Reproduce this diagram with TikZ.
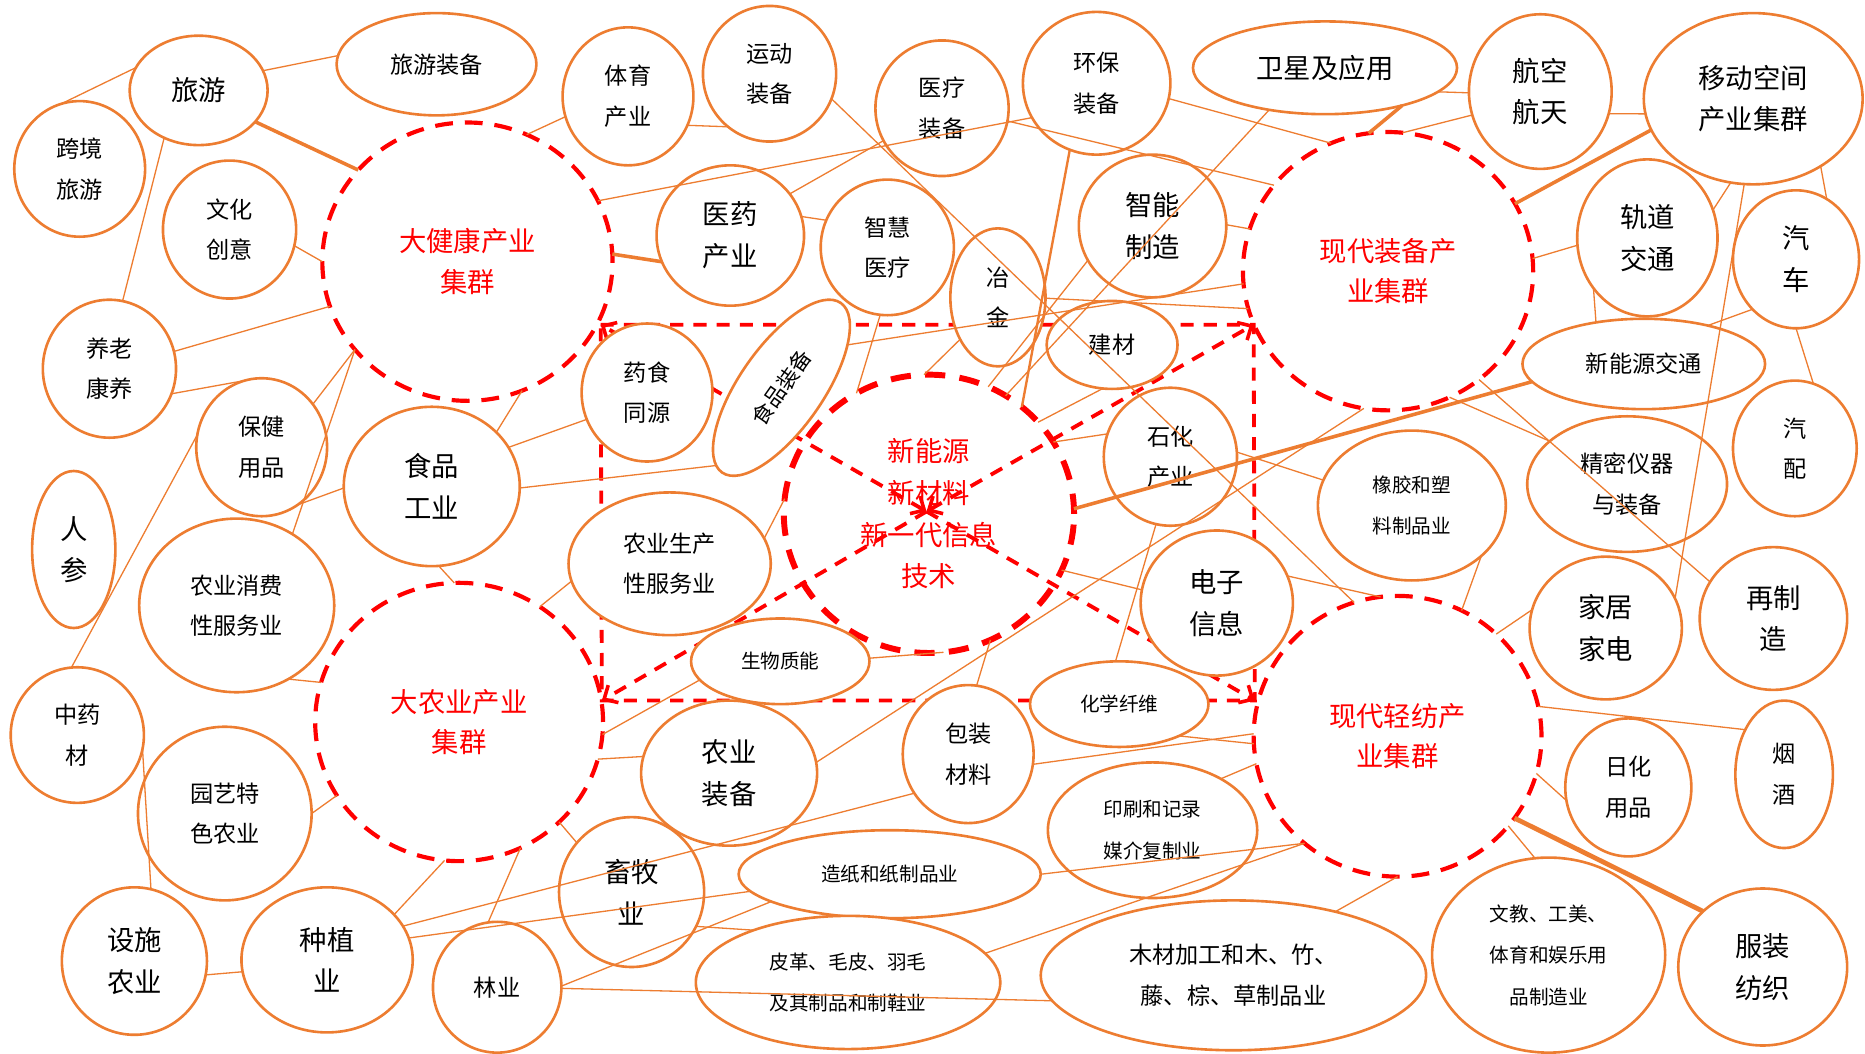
\documentclass[tikz,border=0pt]{standalone}
\usepackage{fontspec}
\setmainfont{Noto Sans CJK SC}
\usetikzlibrary{shapes.geometric,arrows.meta}
\definecolor{org}{RGB}{237,125,49}
\definecolor{rd}{RGB}{255,0,0}
\begin{document}
\begin{tikzpicture}[x=1pt,y=-1pt,
  ell/.style={ellipse,draw=org,fill=white,line width=2.2pt,inner sep=0pt,outer sep=0pt,align=center,text=black},
  fL/.style={font=\fontsize{23}{35}\selectfont},
  fM/.style={font=\fontsize{19.5}{34}\selectfont},
  fS/.style={font=\fontsize{16.5}{35}\selectfont},
  clu/.style={ellipse,draw=rd,line width=3.5pt,dash pattern=on 15pt off 10pt,inner sep=0pt,outer sep=0pt,align=center,text=rd,font=\fontsize{23}{34}\selectfont},
  ln/.style={draw=org,line width=1.1pt},
  lnm/.style={draw=org,line width=2pt},
  lnt/.style={draw=org,line width=3pt},
  rdl/.style={draw=rd,line width=3.2pt,dash pattern=on 11pt off 8.5pt},
  arr/.style={-{Straight Barb[length=9pt,width=17pt,line width=3pt]}},
  arrb/.style={{Straight Barb[length=9pt,width=17pt,line width=3pt]}-{Straight Barb[length=9pt,width=17pt,line width=3pt]}}
]
\path[use as bounding box] (0,0) rectangle (1568,886);

% red central structure
\coordinate (TL) at (505,273);
\coordinate (TR) at (1054,273);
\coordinate (BL) at (506,589);
\coordinate (BR) at (1055,589);
\coordinate (C) at (779,430);
\draw[rdl] (TL) -- (TR) -- (BR) -- (BL) -- cycle;
\draw[rdl,arrb] (C) -- (TL);
\draw[rdl,arrb] (C) -- (TR);
\draw[rdl,arr] (C) -- (BL);
\draw[rdl,arr] (C) -- (BR);

% clusters
\node[clu,minimum width=244pt,minimum height=234pt] (djk) at (393,220) {大健康产业\\集群};
\node[clu,minimum width=244pt,minimum height=234pt] (xdzb) at (1167,228) {现代装备产\\业集群};
\node[clu,line width=5pt,dash pattern=on 17pt off 12pt,font=\fontsize{23}{35}\selectfont,minimum width=244pt,minimum height=234pt] (xny) at (781,432) {新能源\\新材料\\新一代信息\\技术};
\node[clu,minimum width=242pt,minimum height=234pt] (dny) at (386,607) {大农业产业\\集群};
\node[clu,minimum width=242pt,minimum height=236pt] (xdqf) at (1175,619) {现代轻纺产\\业集群};

% nodes
\node[ell,fM,minimum width=110pt,minimum height=114pt] (kj) at (67,142) {跨境\\旅游};
\node[ell,fL,minimum width=116pt,minimum height=92pt] (ly) at (167,76) {旅游};
\node[ell,fM,minimum width=168pt,minimum height=86pt] (lyzb) at (367,54) {旅游装备};
\node[ell,fM,minimum width=110pt,minimum height=116pt] (ty) at (528,81) {体育\\产业};
\node[ell,fM,minimum width=112pt,minimum height=114pt] (yd) at (647,62) {运动\\装备};
\node[ell,fM,minimum width=112pt,minimum height=114pt] (ylzb) at (792,91) {医疗\\装备};
\node[ell,fM,minimum width=124pt,minimum height=120pt] (hb) at (922,70) {环保\\装备};
\node[ell,fL,minimum width=222pt,minimum height=78pt] (wx) at (1114,57) {卫星及应用};
\node[ell,fL,minimum width=120pt,minimum height=130pt] (hk) at (1295,77) {航空\\航天};
\node[ell,fL,minimum width=184pt,minimum height=144pt] (kj2) at (1474,83) {移动空间\\产业集群};
\node[ell,fM,minimum width=112pt,minimum height=116pt] (wh) at (193,193) {文化\\创意};
\node[ell,fL,minimum width=124pt,minimum height=118pt] (yy) at (614,198) {医药\\产业};
\node[ell,fM,minimum width=112pt,minimum height=114pt] (zh) at (746,208) {智慧\\医疗};
\node[ell,fM,minimum width=80pt,minimum height=116pt] (yj) at (839,250) {冶\\金};
\node[ell,fL,minimum width=124pt,minimum height=120pt] (zn) at (969,190) {智能\\制造};
\node[ell,fL,minimum width=118pt,minimum height=132pt] (gd) at (1385,200) {轨道\\交通};
\node[ell,fL,minimum width=106pt,minimum height=116pt] (qc) at (1510,218) {汽\\车};
\node[ell,fM,minimum width=112pt,minimum height=116pt] (yl) at (92,310) {养老\\康养};
\node[ell,fM,minimum width=110pt,minimum height=74pt] (jc) at (935,290) {建材};
\node[ell,fM,minimum width=204pt,minimum height=76pt] (xnyjt) at (1382,306) {新能源交通};
\node[ell,fM,minimum width=110pt,minimum height=116pt] (ys) at (544,330) {药食\\同源};
\node[ell,font=\fontsize{18}{24}\selectfont,minimum width=174pt,minimum height=70pt,rotate=55] (spzb) at (657,326) {食品装备};
\node[ell,fM,minimum width=110pt,minimum height=116pt] (bj) at (220,376) {保健\\用品};
\node[ell,fL,minimum width=148pt,minimum height=134pt] (spgy) at (363,409) {食品\\工业};
\node[ell,fM,minimum width=112pt,minimum height=116pt] (sh) at (984,384) {石化\\产业};
\node[ell,fM,minimum width=104pt,minimum height=114pt] (qp) at (1509,377) {汽\\配};
\node[ell,fS,minimum width=158pt,minimum height=126pt] (xj) at (1187,425) {橡胶和塑\\料制品业};
\node[ell,fM,minimum width=168pt,minimum height=114pt] (jm) at (1368,407) {精密仪器\\与装备};
\node[ell,fL,minimum width=70pt,minimum height=132pt] (rs) at (62,462) {人\\参};
\node[ell,fM,minimum width=164pt,minimum height=146pt] (nyxf) at (199,509) {农业消费\\性服务业};
\node[ell,fM,minimum width=170pt,minimum height=120pt] (nysc) at (563,474) {农业生产\\性服务业};
\node[ell,fL,minimum width=128pt,minimum height=122pt] (dz) at (1023,507) {电子\\信息};
\node[ell,fL,minimum width=128pt,minimum height=120pt] (jj) at (1350,528) {家居\\家电};
\node[ell,fL,minimum width=124pt,minimum height=120pt] (zzz) at (1491,520) {再制\\造};
\node[ell,fS,minimum width=150pt,minimum height=72pt] (sw) at (656,556) {生物质能};
\node[ell,fS,minimum width=150pt,minimum height=72pt] (hx) at (941,592) {化学纤维};
\node[ell,fM,minimum width=112pt,minimum height=114pt] (zy) at (65,618) {中药\\材};
\node[ell,fL,minimum width=148pt,minimum height=122pt] (nyzb) at (613,650) {农业\\装备};
\node[ell,fM,minimum width=110pt,minimum height=116pt] (bz) at (814,634) {包装\\材料};
\node[ell,fM,minimum width=106pt,minimum height=116pt] (rh) at (1369,662) {日化\\用品};
\node[ell,fM,minimum width=82pt,minimum height=124pt] (yjiu) at (1500,651) {烟\\酒};
\node[ell,fM,minimum width=146pt,minimum height=146pt] (yy2) at (189,684) {园艺特\\色农业};
\node[ell,fS,minimum width=176pt,minimum height=114pt] (ys2) at (969,698) {印刷和记录\\媒介复制业};
\node[ell,fL,minimum width=122pt,minimum height=126pt] (xm) at (531,750) {畜牧\\业};
\node[ell,fS,minimum width=254pt,minimum height=74pt] (zz) at (748,735) {造纸和纸制品业};
\node[ell,fL,minimum width=122pt,minimum height=124pt] (ss) at (113,808) {设施\\农业};
\node[ell,fL,minimum width=144pt,minimum height=122pt] (zhz) at (275,807) {种植\\业};
\node[ell,fM,minimum width=108pt,minimum height=110pt] (lin) at (418,830) {林业};
\node[ell,fS,minimum width=256pt,minimum height=112pt] (pg) at (713,826) {皮革、毛皮、羽毛\\及其制品和制鞋业};
\node[ell,fM,minimum width=324pt,minimum height=126pt] (mc) at (1037,820) {木材加工和木、竹、\\藤、棕、草制品业};
\node[ell,fS,minimum width=196pt,minimum height=164pt] (wj) at (1302,803) {文教、工美、\\体育和娱乐用\\品制造业};
\node[ell,fL,minimum width=142pt,minimum height=132pt] (fz) at (1482,813) {服装\\纺织};

% connectors
\draw[ln] (kj.106) -- (ly.160);
\draw[ln] (ly.17) -- (lyzb.175);
\draw[lnt] (ly.-29) -- (djk.140);
\draw[ln] (ly.234) -- (yl.79);
\draw[ln] (ty.198) -- (djk.65);
\draw[ln] (djk.25) -- (hb.208);
\draw[ln] (wh.-14) -- (djk.180);
\draw[lnt] (djk.3) -- (yy.201);
\draw[ln] (yl.15) -- (djk.198);
\draw[ln] (yl.-22) -- (bj.104);
\draw[ln] (djk.218) -- (bj.40);
\draw[ln] (djk.218) -- (nyxf.52);
\draw[ln] (bj.169) -- (zy.95);
\draw[ln] (spgy.40) -- (djk.-67);
\draw[ln] (spgy.27) -- (ys.204);
\draw[ln] (spgy.-1) -- (spzb.175);
\draw[ln] (bj.-58) -- (spgy.181);
\draw[ln] (ty.-26) -- (yd.232);
\draw[ln] (yd.-22) -- (xdqf.108);
\draw[ln] (yy.35) -- (ylzb.209);
\draw[ln] (yy.15) -- (zh.156);
\draw[ln] (zh.-96) -- (xny.121);
\draw[ln] (yj.228) -- (xny.92);
\draw[ln] (spzb.-22) -- (xdzb.185);
\draw[ln] (yj.-1) -- (xdzb.195);
\draw[lnm] (hb.248) -- (xny.49);
\draw[ln] (hb.-12) -- (xdzb.114);
\draw[ln] (ylzb.-11) -- (xdzb.143);
\draw[ln] (zn.1) -- (xdzb.163);
\draw[ln] (wx.217) -- (xny.57);
\draw[ln] (zn.208) -- (xny.65);
\draw[ln] (wx.-12) -- (hk.181);
\draw[lnt] (wx.-26) -- (xdzb.98);
\draw[ln] (hk.199) -- (xdzb.84);
\draw[ln] (hk.-18) -- (kj2.188);
\draw[lnt] (kj2.197) -- (xdzb.28);
\draw[ln] (xdzb.5) -- (gd.186);
\draw[ln] (kj2.255) -- (gd.23);
\draw[ln] (kj2.-45) -- (qc.63);
\draw[ln] (kj2.264) -- (jj.23);
\draw[ln] (gd.223) -- (xnyjt.139);
\draw[ln] (qc.229) -- (xnyjt.31);
\draw[ln] (qc.-90) -- (qp.74);
\draw[lnt] (xnyjt.189) -- (xny.2);
\draw[ln] (xdzb.-50) -- (zzz.150);
\draw[ln] (xdzb.-64) -- (jm.151);
\draw[ln] (xdzb.260) -- (nyzb.7);
\draw[ln] (sh.4) -- (xj.164);
\draw[ln] (dz.21) -- (xdqf.97);
\draw[ln] (xj.-36) -- (xdqf.63);
\draw[ln] (xdqf.46) -- (jj.166);
\draw[ln] (xdqf.12) -- (yjiu.131);
\draw[ln] (xdqf.-15) -- (rh.192);
\draw[draw=org,line width=4pt] (xdqf.-35) -- (fz.137);
\draw[ln] (xdqf.-39) -- (wj.98);
\draw[ln] (xdqf.-90) -- (mc.32);
\draw[ln] (sw.2) -- (xny.-84);
\draw[ln] (bz.83) -- (xny.-64);
\draw[ln] (sh.258) -- (hx.95);
\draw[ln] (nysc.15) -- (xny.174);
\draw[ln] (xny.-23) -- (dz.170);
\draw[ln] (hx.-28) -- (xdqf.183);
\draw[ln] (bz.-9) -- (xdqf.179);
\draw[ln] (ys2.37) -- (xdqf.191);
\draw[ln] (zz.0) -- (xdqf.229);
\draw[ln] (pg.12) -- (xdqf.229);
\draw[ln] (zhz.24) -- (bz.216);
\draw[ln] (zhz.15) -- (zz.187);
\draw[ln] (lin.1) -- (zz.193);
\draw[ln] (lin.-1) -- (mc.188);
\draw[ln] (xm.-28) -- (pg.151);
\draw[ln] (dny.-5) -- (sw.193);
\draw[ln] (dny.-15) -- (nyzb.169);
\draw[ln] (dny.55) -- (nysc.190);
\draw[ln] (dny.92) -- (spgy.-85);
\draw[ln] (nyxf.-55) -- (dny.164);
\draw[ln] (yy2.0) -- (dny.211);
\draw[ln] (dny.-45) -- (xm.138);
\draw[ln] (zhz.34) -- (dny.264);
\draw[ln] (lin.98) -- (dny.-64);
\draw[ln] (ss.-11) -- (zhz.188);
\draw[ln] (zy.-12) -- (ss.77);
\draw[ln] (xny.30) -- (sh.160);
\draw[ln] (xny.40) -- (jc.258);
\end{tikzpicture}
\end{document}
